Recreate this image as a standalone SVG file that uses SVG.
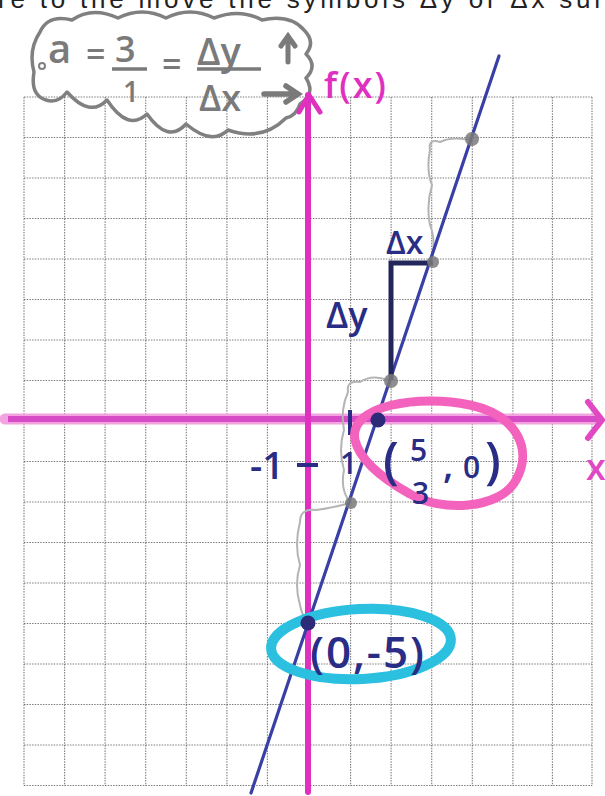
<svg xmlns="http://www.w3.org/2000/svg" width="605" height="796" viewBox="0 0 605 796">
<style>
.grid line{stroke:#555;stroke-width:1.1;stroke-dasharray:1.5 1.2;opacity:.75}
.hand{font-family:"Open Sans","Liberation Sans",sans-serif}
.navy{fill:#2a2d86}
.gray{fill:#7a7a7a}
.sq{fill:none;stroke:#b4b4b4;stroke-width:2;stroke-linecap:round;stroke-linejoin:round}
</style>
<rect width="605" height="796" fill="#ffffff"/>
<text x="-2" y="8" font-family="Liberation Sans,sans-serif" font-size="26" fill="#222" textLength="605">re to the move the symbols Δy or Δx sur</text>
<g id="grid" class="grid">
<line x1="24" y1="97" x2="24" y2="786"/><line x1="64.6" y1="97" x2="64.6" y2="786"/><line x1="105.1" y1="97" x2="105.1" y2="786"/><line x1="145.7" y1="97" x2="145.7" y2="786"/><line x1="186.3" y1="97" x2="186.3" y2="786"/><line x1="226.9" y1="97" x2="226.9" y2="786"/><line x1="267.4" y1="97" x2="267.4" y2="786"/><line x1="308" y1="97" x2="308" y2="786"/><line x1="350.6" y1="97" x2="350.6" y2="786"/><line x1="391.1" y1="97" x2="391.1" y2="786"/><line x1="431.7" y1="97" x2="431.7" y2="786"/><line x1="472.3" y1="97" x2="472.3" y2="786"/><line x1="512.9" y1="97" x2="512.9" y2="786"/><line x1="552.4" y1="97" x2="552.4" y2="786"/><line x1="592" y1="97" x2="592" y2="786"/>
<line x1="24" y1="97" x2="592" y2="97"/><line x1="24" y1="137.5" x2="592" y2="137.5"/><line x1="24" y1="178" x2="592" y2="178"/><line x1="24" y1="218.5" x2="592" y2="218.5"/><line x1="24" y1="259" x2="592" y2="259"/><line x1="24" y1="299.5" x2="592" y2="299.5"/><line x1="24" y1="340" x2="592" y2="340"/><line x1="24" y1="380.5" x2="592" y2="380.5"/><line x1="24" y1="421" x2="592" y2="421"/><line x1="24" y1="461.5" x2="592" y2="461.5"/><line x1="24" y1="502" x2="592" y2="502"/><line x1="24" y1="542.5" x2="592" y2="542.5"/><line x1="24" y1="583" x2="592" y2="583"/><line x1="24" y1="623.5" x2="592" y2="623.5"/><line x1="24" y1="664" x2="592" y2="664"/><line x1="24" y1="704.5" x2="592" y2="704.5"/><line x1="24" y1="745" x2="592" y2="745"/><line x1="24" y1="785.5" x2="592" y2="785.5"/>
</g>
<g id="cloud">
<path d="M 46 100 Q 30 95 34 72 Q 28 50 40 32 Q 48 14 72 20 Q 92 6 118 18 Q 142 6 166 18 Q 190 6 214 18 Q 240 8 262 20 Q 290 14 304 30 Q 316 42 306 54 Q 318 66 306 78 Q 316 94 300 104 Q 296 116 286 118 Q 262 142 228 130 Q 212 146 186 124 Q 168 144 147 114 Q 128 132 107 100 Q 90 118 67 92 Q 58 104 46 100 Z" fill="none" stroke="#808080" stroke-width="3.5" stroke-linejoin="round"/>
<circle cx="42" cy="66" r="3" fill="none" stroke="#808080" stroke-width="2"/>
<text class="hand gray" x="48" y="63" font-size="40" font-weight="600">a</text>
<text class="hand gray" x="86" y="66" font-size="34" font-weight="600">=</text>
<text class="hand gray" x="115" y="62" font-size="36" font-weight="600">3</text>
<line x1="112" y1="69" x2="147" y2="69" stroke="#7a7a7a" stroke-width="3.5"/>
<text class="hand gray" x="123" y="102" font-size="28" font-weight="600">1</text>
<text class="hand gray" x="162" y="76" font-size="34" font-weight="600">=</text>
<text class="hand gray" x="197" y="65" font-size="38" font-weight="600">Δy</text>
<line x1="197" y1="69" x2="261" y2="69" stroke="#7a7a7a" stroke-width="3.5"/>
<text class="hand gray" x="199" y="111" font-size="36" font-weight="600">Δx</text>
<path d="M 288 62 L 288 38 M 281 46 L 288 36 L 295 46" fill="none" stroke="#7a7a7a" stroke-width="5" stroke-linecap="round"/>
<path d="M 264 94 L 294 94 M 286 86 L 298 94 L 286 102" fill="none" stroke="#7a7a7a" stroke-width="5.5" stroke-linecap="round"/>
</g>
<g id="axes">
<line x1="5" y1="419" x2="598" y2="419" stroke="#f3a3df" stroke-width="11" stroke-linecap="round"/>
<line x1="8" y1="419" x2="598" y2="419" stroke="#d64bc6" stroke-width="6"/>
<polyline points="588,402 602,420 588,438" fill="none" stroke="#e048c4" stroke-width="6" stroke-linecap="round" stroke-linejoin="round"/>
<text x="586" y="480" font-family="Open Sans,sans-serif" font-size="36" font-weight="600" fill="#e048c4">x</text>
<line x1="308" y1="95" x2="308" y2="792" stroke="#e030c0" stroke-width="6" stroke-linecap="round"/>
<polyline points="299,112 309,95 320,112" fill="none" stroke="#e030c0" stroke-width="5" stroke-linecap="round" stroke-linejoin="round"/>
<text x="324" y="98" font-family="Open Sans,sans-serif" font-size="36" font-weight="600" fill="#e030c0" textLength="62">f(x)</text>
</g>
<g id="connectors">
<path class="sq" d="M 470 140 Q 452 136 440 142 Q 428 138 430 150 Q 426 170 432 185 Q 426 205 430 225 Q 436 240 432 258"/>
<path class="sq" d="M 388 380 Q 372 374 360 382 Q 346 380 348 392 Q 340 410 344 430 Q 338 450 344 470 Q 340 490 350 502"/>
<path class="sq" d="M 350 503 Q 332 508 316 510 Q 300 508 300 522 Q 294 545 300 565 Q 294 585 300 605 Q 302 616 308 622"/>
<line id="graph-line" x1="251" y1="793" x2="499" y2="56" stroke="#3a3fa6" stroke-width="3.2" stroke-linecap="round"/>
<path d="M 391 380 L 391 263 L 433 263" fill="none" stroke="#23265a" stroke-width="5" stroke-linejoin="miter"/>
</g>
<g id="gray-points" fill="#7b7b7b" opacity=".85">
<circle cx="351" cy="503" r="6"/>
<circle cx="391" cy="381" r="7"/>
<circle cx="433" cy="262" r="6"/>
<circle cx="472" cy="139" r="7"/>
</g>
<g id="slope-labels">
<text class="hand navy" x="386" y="254" font-size="32" font-weight="600">Δx</text>
<text class="hand navy" x="326" y="328" font-size="36" font-weight="600">Δy</text>
</g>
<g id="tick-labels">
<line x1="297" y1="465" x2="318" y2="465" stroke="#2a2d86" stroke-width="4"/>
<text class="hand navy" x="250" y="479" font-size="38" font-weight="600">-1</text>
<line x1="350" y1="410" x2="350" y2="435" stroke="#2a2d86" stroke-width="4"/>
<text class="hand navy" x="340" y="474" font-size="30" font-weight="600">1</text>
</g>
<g id="point-x-intercept">
<path d="M 355 440 C 348 405, 420 394, 470 405 C 520 416, 532 452, 516 480 C 500 510, 440 512, 410 494 C 385 480, 360 462, 355 440 Z" fill="none" stroke="#f363bd" stroke-width="9"/>
<circle cx="378" cy="420" r="7.5" fill="#2e2a7a"/>
<text class="hand navy" x="383" y="478" font-size="50" font-weight="600">(</text>
<text class="hand navy" x="410" y="461" font-size="30" font-weight="600">5</text>
<text class="hand navy" x="412" y="504" font-size="30" font-weight="600">3</text>
<text class="hand navy" x="443" y="478" font-size="38" font-weight="600">,</text>
<text class="hand navy" x="463" y="478" font-size="30" font-weight="600">0</text>
<text class="hand navy" x="485" y="478" font-size="50" font-weight="600">)</text>
</g>
<g id="point-y-intercept">
<ellipse cx="361" cy="644" rx="90" ry="35" transform="rotate(-3 361 644)" fill="none" stroke="#2bbfe0" stroke-width="10"/>
<circle cx="308" cy="623" r="7.5" fill="#2e2a7a"/>
<text class="hand navy" x="310" y="668" font-size="44" font-weight="600" textLength="114">(0,-5)</text>
</g>
</svg>
